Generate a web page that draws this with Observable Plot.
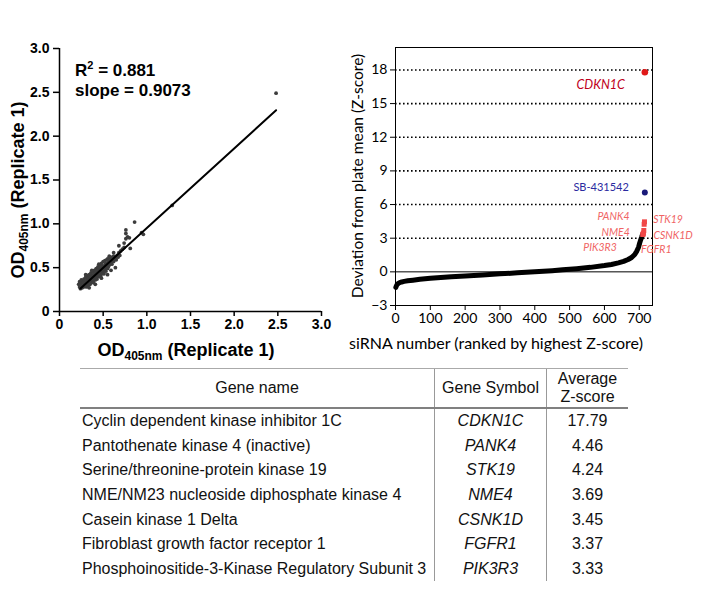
<!DOCTYPE html>
<html>
<head>
<meta charset="utf-8">
<script src="https://cdn.jsdelivr.net/npm/d3@7"></script>
<script src="https://cdn.jsdelivr.net/npm/@observablehq/plot@0.6"></script>
<style>
  body { margin:0; width:712px; height:589px; background:#fff; position:relative; overflow:hidden; }
  #left { position:absolute; left:0; top:0; }
  #right { position:absolute; left:340px; top:0; }
  #tbl { position:absolute; left:80px; top:368px; border-collapse:collapse; font:16px "Liberation Sans", Arial, sans-serif; color:#111; }
  #tbl th { font-weight:normal; height:38px; border-top:1px solid #aaa; border-bottom:2px solid #808080; padding:0; line-height:18px; text-align:center; }
  #tbl td { height:24.6px; padding:0; line-height:18px; }
  #tbl th + th, #tbl td + td { border-left:1px solid #999; }
  #tbl td:first-child { text-align:left; padding-left:2px; }
  #tbl td:nth-child(2) { font-style:italic; text-align:center; }
  #tbl td:nth-child(3) { text-align:center; }
</style>
</head>
<body>
<div id="left"></div>
<div id="right"></div>
<table id="tbl"></table>
<script>
// ---------- Data ----------
// Left panel: OD405nm replicate pairs [replicate 1, replicate 2]
const odPairs = [
[0.22,0.31],[0.23,0.28],[0.23,0.34],[0.24,0.30],[0.24,0.26],[0.25,0.33],[0.25,0.29],[0.25,0.36],[0.26,0.31],[0.26,0.27],
[0.27,0.35],[0.27,0.30],[0.27,0.33],[0.28,0.28],[0.28,0.37],[0.29,0.32],[0.29,0.29],[0.29,0.35],[0.30,0.33],[0.30,0.30],
[0.30,0.39],[0.31,0.35],[0.31,0.31],[0.31,0.28],[0.32,0.37],[0.32,0.33],[0.32,0.41],[0.33,0.34],[0.33,0.30],[0.33,0.38],
[0.34,0.36],[0.34,0.32],[0.34,0.42],[0.35,0.38],[0.35,0.34],[0.35,0.31],[0.36,0.40],[0.36,0.35],[0.36,0.44],[0.37,0.37],
[0.37,0.33],[0.37,0.41],[0.38,0.39],[0.38,0.35],[0.38,0.45],[0.39,0.41],[0.39,0.36],[0.39,0.33],[0.40,0.42],[0.40,0.38],
[0.40,0.47],[0.41,0.40],[0.41,0.36],[0.41,0.44],[0.42,0.43],[0.42,0.39],[0.42,0.49],[0.43,0.45],[0.43,0.40],[0.43,0.37],
[0.44,0.47],[0.44,0.42],[0.44,0.51],[0.45,0.44],[0.45,0.40],[0.45,0.49],[0.46,0.46],[0.46,0.42],[0.46,0.53],[0.47,0.48],
[0.47,0.43],[0.47,0.40],[0.48,0.50],[0.48,0.45],[0.48,0.55],[0.49,0.47],[0.49,0.43],[0.49,0.52],[0.50,0.49],[0.50,0.45],
[0.50,0.57],[0.51,0.51],[0.51,0.47],[0.51,0.43],[0.52,0.53],[0.52,0.49],[0.52,0.58],[0.53,0.50],[0.53,0.46],[0.53,0.55],
[0.54,0.52],[0.54,0.59],[0.55,0.54],[0.55,0.49],[0.55,0.60],[0.56,0.56],[0.56,0.51],[0.57,0.58],[0.57,0.53],[0.58,0.60],
[0.58,0.55],[0.59,0.57],[0.59,0.62],[0.60,0.59],[0.60,0.54],[0.61,0.61],[0.62,0.57],[0.62,0.63],[0.63,0.60],[0.64,0.62],
[0.65,0.59],[0.66,0.64],[0.67,0.62],[0.68,0.67],[0.69,0.64],[0.70,0.69],[0.72,0.71],[0.74,0.73],[0.68,0.75],[0.74,0.78],
[0.76,0.83],[0.76,0.89],[0.76,0.93],[0.78,0.85],[0.80,0.84],[0.81,0.72],[0.86,1.02],[0.94,0.90],[0.96,0.88],[1.29,1.21],
[2.48,2.49],[0.64,0.50],[0.59,0.47],[0.41,0.31],[0.30,0.42],[0.45,0.54],[0.37,0.47],[0.55,0.42],[0.62,0.67],[0.57,0.63],
[0.34,0.27],[0.48,0.38]
];
const fitSlope = 0.9073;
const fitIntercept = 0.045;
const fitXRange = [0.24, 2.48];
const rSquared = "0.881";
const odTicks = [0, 0.5, 1.0, 1.5, 2.0, 2.5, 3.0];

// Right panel: ranked Z-score curve
const curveRank = [1,2,3,5,8,12,18,25,35,50,70,100,130,160,200,250,300,350,400,450,480,520,560,600,620,640,655,668,678,687,693,698,701,704,707,709];
const curveZ = [-1.38,-1.3,-1.22,-1.12,-1.03,-0.96,-0.9,-0.85,-0.8,-0.74,-0.66,-0.57,-0.5,-0.44,-0.37,-0.28,-0.18,-0.09,0.0,0.1,0.18,0.28,0.4,0.56,0.66,0.8,0.93,1.1,1.28,1.55,1.85,2.2,2.55,2.85,3.1,3.3];
const hitGenes = ["CDKN1C","PANK4","STK19","NME4","CSNK1D","FGFR1","PIK3R3"];
const hitRank = [716,715,714,713,712,711,710];
const hitZ = [17.79,4.46,4.24,3.69,3.45,3.37,3.33];
const geneNames = [
  "Cyclin dependent kinase inhibitor 1C",
  "Pantothenate kinase 4 (inactive)",
  "Serine/threonine-protein kinase 19",
  "NME/NM23 nucleoside diphosphate kinase 4",
  "Casein kinase 1 Delta",
  "Fibroblast growth factor receptor 1",
  "Phosphoinositide-3-Kinase Regulatory Subunit 3"
];
const controlName = "SB-431542";
const controlRank = 716;
const controlZ = 7.08;
const rankTicks = [0,100,200,300,400,500,600,700];
const zTicks = [-3,0,3,6,9,12,15,18];
const zGrid = [3,6,9,12,15,18];

// ---------- Left panel ----------
const fitLine = fitXRange.map(x => ({x, y: fitIntercept + fitSlope * x}));
const odFmt = d => d === 0 ? "0" : d.toFixed(1);
const leftSvg = Plot.plot({
  width: 340, height: 365,
  marginLeft: 59, marginRight: 19, marginTop: 48, marginBottom: 54,
  style: {fontFamily: "'Liberation Sans', Arial, sans-serif", fontSize: "14px", fontWeight: "bold", color: "#000", background: "#fff", overflow: "visible"},
  x: {domain: [0, 3]},
  y: {domain: [0, 3]},
  marks: [
    Plot.axisX({ticks: odTicks, tickFormat: odFmt, tickSize: 5, tickPadding: 3, label: null, strokeWidth: 1.5}),
    Plot.axisY({ticks: odTicks, tickFormat: odFmt, tickSize: 6, tickPadding: 4, label: null, strokeWidth: 1.5}),
    Plot.ruleX([0], {stroke: "#000", strokeWidth: 1.5}),
    Plot.ruleY([0], {stroke: "#000", strokeWidth: 1.5}),
    Plot.dot(odPairs, {x: d => d[0], y: d => d[1], r: 1.9, fill: "#3c3c3c", stroke: "none"}),
    Plot.line(fitLine, {x: "x", y: "y", stroke: "#000", strokeWidth: 2})
  ]
});
document.getElementById("left").appendChild(leftSvg);
{
  const s = d3.select(leftSvg);
  const font = "'Liberation Sans', Arial, sans-serif";
  const xl = s.append("text").attr("x", 186).attr("y", 356).attr("text-anchor", "middle")
    .attr("font-family", font).attr("font-weight", "bold").attr("font-size", 18).attr("fill", "#000");
  xl.append("tspan").text("OD");
  xl.append("tspan").attr("font-size", 12).attr("dy", 4).text("405nm");
  xl.append("tspan").attr("dy", -4).text(" (Replicate 1)");
  const yl = s.append("text").attr("transform", "translate(24,190) rotate(-90)").attr("text-anchor", "middle")
    .attr("font-family", font).attr("font-weight", "bold").attr("font-size", 18).attr("fill", "#000");
  yl.append("tspan").text("OD");
  yl.append("tspan").attr("font-size", 12).attr("dy", 4).text("405nm");
  yl.append("tspan").attr("dy", -4).text(" (Replicate 1)");
  const r2 = s.append("text").attr("x", 75).attr("y", 76).attr("text-anchor", "start")
    .attr("font-family", font).attr("font-weight", "bold").attr("font-size", 17).attr("fill", "#000");
  r2.append("tspan").text("R");
  r2.append("tspan").attr("font-size", 11).attr("dy", -7).text("2");
  r2.append("tspan").attr("dy", 7).text(" = " + rSquared);
  s.append("text").attr("x", 75).attr("y", 96).attr("text-anchor", "start")
    .attr("font-family", font).attr("font-weight", "bold").attr("font-size", 17).attr("fill", "#000")
    .text("slope = " + fitSlope);
}

// ---------- Right panel ----------
const curve = curveRank.map((r, i) => ({r, z: curveZ[i]}));
const hits = hitGenes.map((g, i) => ({g, r: hitRank[i], z: hitZ[i]}));
const control = [{g: controlName, r: controlRank, z: controlZ}];
const labelStyle = {
  CDKN1C: {textAnchor: "end", dx: -20, dy: 13, fontSize: 12.5, fill: "#c0001c"},
  PANK4:  {textAnchor: "end", dx: -15, dy: -5, fontSize: 10.5, fill: "#f06464"},
  STK19:  {textAnchor: "start", dx: 9, dy: -5, fontSize: 10.5, fill: "#f06464"},
  NME4:   {textAnchor: "end", dx: -14, dy: 2, fontSize: 10.5, fill: "#f06464"},
  CSNK1D: {textAnchor: "start", dx: 10, dy: 2, fontSize: 10.5, fill: "#f06464"},
  FGFR1:  {textAnchor: "start", dx: -2, dy: 16, fontSize: 10.5, fill: "#f06464"},
  PIK3R3: {textAnchor: "end", dx: -26, dy: 13, fontSize: 10.5, fill: "#f06464"}
};
const rightSvg = Plot.plot({
  width: 372, height: 365,
  marginLeft: 55, marginRight: 60, marginTop: 47, marginBottom: 60,
  style: {fontFamily: "Lato, 'Open Sans', sans-serif", fontSize: "14px", color: "#000", background: "#fff", overflow: "visible"},
  x: {domain: [0, 738]},
  y: {domain: [-3, 20]},
  marks: [
    Plot.ruleY(zGrid, {stroke: "#000", strokeWidth: 1.6, strokeDasharray: "1.6,2.4"}),
    Plot.ruleY([0], {stroke: "#000", strokeWidth: 1}),
    Plot.frame({stroke: "#000", strokeWidth: 1}),
    Plot.axisX({ticks: rankTicks, tickSize: 5, tickPadding: 3, label: null}),
    Plot.axisY({ticks: zTicks, tickSize: 5, tickPadding: 3, label: null}),
    Plot.line(curve, {x: "r", y: "z", stroke: "#000", strokeWidth: 5, strokeLinecap: "round"}),
    Plot.dot(hits.slice(1), {x: "r", y: "z", r: 2.8, symbol: "square", fill: "#f04848"}),
    Plot.dot(hits.slice(0, 1), {x: "r", y: "z", r: 3.3, fill: "#e01818"}),
    Plot.dot(control, {x: "r", y: "z", r: 3, fill: "#1a1a7a"}),
    Plot.text(control, {x: "r", y: "z", text: "g", textAnchor: "end", dx: -16, dy: -5, fontSize: 11, fill: "#2a2aa0"}),
    ...hits.map(h => Plot.text([h], {x: "r", y: "z", text: "g", fontStyle: "italic", ...labelStyle[h.g]}))
  ]
});
document.getElementById("right").appendChild(rightSvg);
{
  const s = d3.select(rightSvg);
  const font = "Lato, 'Open Sans', sans-serif";
  s.append("text").attr("transform", "translate(23,176) rotate(-90)").attr("text-anchor", "middle")
    .attr("font-family", font).attr("font-size", 15.5).attr("fill", "#000")
    .text("Deviation from plate mean (Z-score)");
  s.append("text").attr("x", 156).attr("y", 349).attr("text-anchor", "middle")
    .attr("font-family", font).attr("font-size", 16).attr("fill", "#000")
    .text("siRNA number (ranked by highest Z-score)");
}

// ---------- Table ----------
const tbl = d3.select("#tbl");
const head = tbl.append("tr");
head.append("th").style("width", "354px").text("Gene name");
head.append("th").style("width", "111px").text("Gene Symbol");
head.append("th").style("width", "81px").html("Average<br>Z-score");
geneNames.forEach((n, i) => {
  const tr = tbl.append("tr");
  tr.append("td").text(n);
  tr.append("td").text(hitGenes[i]);
  tr.append("td").text(hitZ[i].toFixed(2));
});
</script>
</body>
</html>
